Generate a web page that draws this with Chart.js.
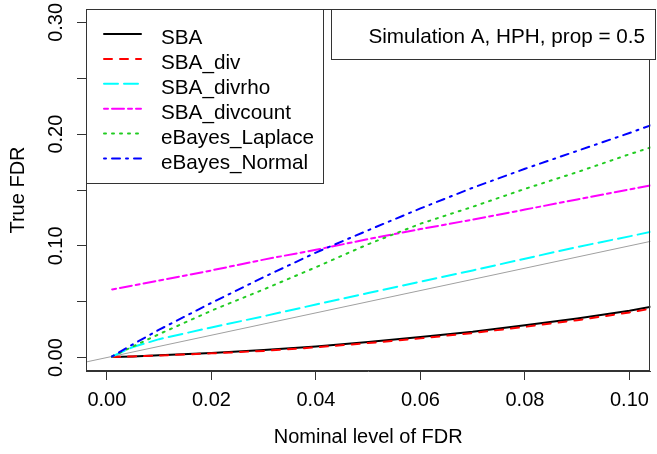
<!DOCTYPE html>
<html>
<head>
<meta charset="utf-8">
<script src="https://cdn.jsdelivr.net/npm/chart.js@4/dist/chart.umd.min.js"></script>
<style>
  html, body { margin: 0; padding: 0; background: #ffffff; }
  #wrap { width: 657px; height: 454px; position: relative; }
</style>
</head>
<body>
<div id="wrap"><canvas id="c" width="657" height="454"></canvas></div>
<script>
// ---- data ----
const xVals       = [0.001, 0.005, 0.01, 0.02, 0.03, 0.04, 0.05, 0.06, 0.07, 0.08, 0.09, 0.10, 0.105];
const sba         = [0.0005, 0.001, 0.002, 0.0042, 0.0068, 0.0100, 0.0140, 0.0185, 0.0232, 0.0290, 0.0350, 0.0420, 0.0462];
const sbaDiv      = [0.0005, 0.001, 0.0018, 0.0038, 0.0060, 0.0092, 0.0130, 0.0172, 0.0220, 0.0275, 0.0335, 0.0404, 0.0445];
const sbaDivrho   = [0.001, 0.0095, 0.0165, 0.027, 0.037, 0.0475, 0.0578, 0.068, 0.078, 0.0885, 0.099, 0.1085, 0.1135];
const sbaDivcount = [0.061, 0.0645, 0.069, 0.078, 0.0877, 0.0965, 0.106, 0.115, 0.1235, 0.1325, 0.1415, 0.1505, 0.155];
const ebLaplace   = [0.001, 0.010, 0.021, 0.042, 0.061, 0.0809, 0.1015, 0.1198, 0.135, 0.151, 0.166, 0.182, 0.1895];
const ebNormal    = [0.001, 0.012, 0.025, 0.049, 0.072, 0.094, 0.114, 0.1335, 0.152, 0.169, 0.185, 0.201, 0.2095];
// reference line y = x
const refX = [-0.01, 0.11];
const refY = [-0.01, 0.11];

const seriesNames = ['SBA', 'SBA_div', 'SBA_divrho', 'SBA_divcount', 'eBayes_Laplace', 'eBayes_Normal'];
const seriesData  = [sba, sbaDiv, sbaDivrho, sbaDivcount, ebLaplace, ebNormal];
const seriesColors = ['#000000', '#FF0000', '#00FFFF', '#FF00FF', '#22CC22', '#0000FF'];
const seriesDash = [[], [8, 8], [14, 6], [4, 4, 12, 4], [2, 6], [2, 6, 8, 6]];

const xTicks = [0, 0.02, 0.04, 0.06, 0.08, 0.10];
const yTicks = [0, 0.05, 0.10, 0.15, 0.20, 0.25, 0.30];
const yLabelValues = [0, 0.10, 0.20, 0.30];
const yLabelTexts = ['0.00', '0.10', '0.20', '0.30'];
const xTitle = 'Nominal level of FDR';
const yTitle = 'True FDR';
const infoText = 'Simulation A, HPH, prop = 0.5';

const FONT = "'Liberation Sans', Arial, Helvetica, sans-serif";

const datasets = [{
  label: 'y=x',
  data: refX.map((x, i) => ({x: x, y: refY[i]})),
  borderColor: '#A0A0A0',
  borderWidth: 1.1,
  pointRadius: 0,
  fill: false,
  clip: 0,
  order: 20
}];
seriesNames.forEach((name, k) => {
  datasets.push({
    label: name,
    data: xVals.map((x, i) => ({x: x, y: seriesData[k][i]})),
    borderColor: seriesColors[k],
    borderWidth: 2,
    borderDash: seriesDash[k],
    borderCapStyle: 'round',
    borderJoinStyle: 'round',
    pointRadius: 0,
    tension: 0,
    fill: false,
    clip: 0,
    order: 10 - k
  });
});

const decor = {
  id: 'decor',
  afterDraw(chart) {
    const ctx = chart.ctx;
    const a = chart.chartArea;
    const ys = chart.scales.y;
    ctx.save();
    // plot box
    ctx.strokeStyle = '#333333';
    ctx.lineWidth = 1;
    ctx.strokeRect(Math.round(a.left) + 0.5, Math.round(a.top) + 0.5,
                   Math.round(a.right) - Math.round(a.left) - 1, Math.round(a.bottom) - Math.round(a.top) - 1);
    // rotated y tick labels
    ctx.fillStyle = '#000000';
    ctx.font = '20px ' + FONT;
    ctx.textAlign = 'center';
    ctx.textBaseline = 'alphabetic';
    yLabelValues.forEach((v, i) => {
      const py = ys.getPixelForValue(v);
      ctx.save();
      ctx.translate(62, py);
      ctx.rotate(-Math.PI / 2);
      ctx.fillText(yLabelTexts[i], 0, 0);
      ctx.restore();
    });
    // legend 1
    const L = {x0: 86.5, y0: 9.5, x1: 323.5, y1: 183.5};
    ctx.fillStyle = '#ffffff';
    ctx.fillRect(L.x0, L.y0, L.x1 - L.x0, L.y1 - L.y0);
    ctx.strokeStyle = '#333333';
    ctx.lineWidth = 1;
    ctx.strokeRect(L.x0, L.y0, L.x1 - L.x0, L.y1 - L.y0);
    seriesNames.forEach((name, k) => {
      const yy = 34 + k * 24.9;
      ctx.save();
      ctx.strokeStyle = seriesColors[k];
      ctx.lineWidth = 2;
      ctx.lineCap = 'round';
      ctx.setLineDash(seriesDash[k]);
      ctx.beginPath();
      ctx.moveTo(104, yy);
      ctx.lineTo(141, yy);
      ctx.stroke();
      ctx.restore();
      ctx.fillStyle = '#000000';
      ctx.font = '20.7px ' + FONT;
      ctx.textAlign = 'left';
      ctx.textBaseline = 'alphabetic';
      ctx.fillText(name, 161, yy + 10.3);
    });
    // legend 2
    const R = {x0: 331.5, y0: 9.5, x1: 655.5, y1: 59.5};
    ctx.fillStyle = '#ffffff';
    ctx.fillRect(R.x0, R.y0, R.x1 - R.x0, R.y1 - R.y0);
    ctx.strokeStyle = '#333333';
    ctx.strokeRect(R.x0, R.y0, R.x1 - R.x0, R.y1 - R.y0);
    ctx.fillStyle = '#000000';
    ctx.font = '20.7px ' + FONT;
    ctx.textAlign = 'right';
    ctx.fillText(infoText, 645, 42.5);
    ctx.restore();
  }
};

new Chart(document.getElementById('c'), {
  type: 'line',
  data: { datasets: datasets },
  options: {
    responsive: false,
    animation: false,
    devicePixelRatio: 1,
    layout: { padding: { top: 9, right: 2, left: 0, bottom: 0 } },
    plugins: { legend: { display: false }, tooltip: { enabled: false }, title: { display: false } },
    scales: {
      x: {
        type: 'linear',
        min: -0.004,
        max: 0.104,
        afterBuildTicks: s => { s.ticks = xTicks.map(v => ({value: v})); },
        afterFit: s => { s.height = 83; },
        ticks: {
          autoSkip: false, maxRotation: 0, minRotation: 0,
          color: '#000000',
          font: { family: FONT, size: 20 },
          padding: 8,
          callback: v => Number(v).toFixed(2)
        },
        grid: { drawOnChartArea: false, drawTicks: true, tickLength: 9, tickColor: '#333333', tickWidth: 1 },
        border: { display: true, color: '#333333', width: 1 },
        title: { display: true, text: xTitle, color: '#000000', font: { family: FONT, size: 20 }, padding: { top: 0, bottom: 4.5 } }
      },
      y: {
        type: 'linear',
        min: -0.012,
        max: 0.312,
        afterBuildTicks: s => { s.ticks = yTicks.map(v => ({value: v})); },
        afterFit: s => { s.width = 86; },
        ticks: { display: false },
        grid: { drawOnChartArea: false, drawTicks: true, tickLength: 9, tickColor: '#333333', tickWidth: 1 },
        border: { display: true, color: '#333333', width: 1 },
        title: { display: true, text: yTitle, color: '#000000', font: { family: FONT, size: 20 }, padding: { top: 6, bottom: 0 } }
      }
    }
  },
  plugins: [decor]
});
</script>
</body>
</html>
